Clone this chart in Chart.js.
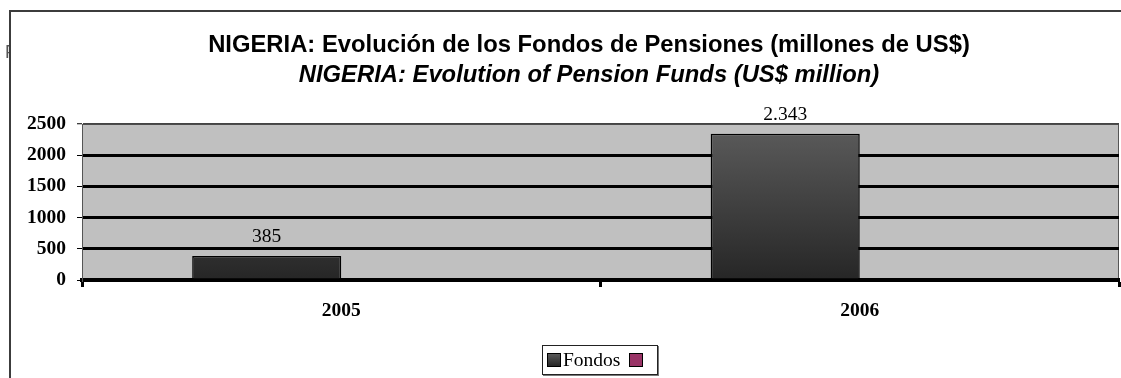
<!DOCTYPE html>
<html>
<head>
<meta charset="utf-8">
<script src="https://cdn.jsdelivr.net/npm/chart.js@4.4.1/dist/chart.umd.min.js"></script>
<style>
  html, body { margin: 0; padding: 0; background: #fff; }
  #wrap { position: relative; width: 1121px; height: 378px; overflow: hidden; }
  #chart { position: absolute; left: 0; top: 0; }
  .frame { position: absolute; left: 9px; top: 10px; right: -10px; bottom: -10px;
           border-left: 2px solid #3c3c3c; border-top: 2px solid #3c3c3c; pointer-events: none; }
  .stub { position: absolute; left: 0; top: 42px; width: 9px; overflow: hidden;
          font: 18px 'Liberation Sans', Arial, sans-serif; color: #555; }
  .stub span { position: relative; left: 5px; }
  .title { position: absolute; left: 89px; width: 1000px; text-align: center;
           font-family: 'Liberation Sans', Arial, sans-serif; font-weight: bold; font-size: 23.8px;
           color: #000; white-space: nowrap; line-height: 1; }
  #t1 { top: 32px; }
  #t2 { top: 62px; font-style: italic; }
  .legend { position: absolute; left: 542px; top: 345px; width: 116px; height: 30px;
            border: 1px solid #222; box-shadow: 1px 1px 0 #777; background: #fff;
            font: 19.5px 'Liberation Serif', 'Times New Roman', serif; color: #000;
            display: flex; align-items: center; box-sizing: border-box; padding-left: 4px; }
  .sw { width: 14px; height: 14px; border: 1.5px solid #000; box-sizing: border-box; display: inline-block; }
</style>
</head>
<body>
<div id="wrap">
  <canvas id="chart" width="1121" height="378"></canvas>
  <div class="stub"><span>F</span></div>
  <div class="frame"></div>
  <div class="title" id="t1">NIGERIA: Evolución de los Fondos de Pensiones (millones de US$)</div>
  <div class="title" id="t2">NIGERIA: Evolution of Pension Funds (US$ million)</div>
  <div class="legend">
    <span class="sw" style="background: linear-gradient(#5a5a5a, #262626);"></span>
    <span style="margin-left: 2px;">Fondos</span>
    <span class="sw" style="background: #993366; margin-left: 9px;"></span>
  </div>
</div>
<script>
// Pension fund assets, US$ million
const YEARS = ['2005', '2006'];
const FONDOS = [385, 2343];
const EMPTY_SERIES = [null, null];
const Y_MIN = 0;
const Y_MAX = 2500;
const Y_STEP = 500;

const serif = "'Liberation Serif', 'Times New Roman', serif";

// grey plot background with a thin outline
const plotBackground = {
  id: 'plotBackground',
  beforeDraw(chart) {
    const { ctx, chartArea: a } = chart;
    ctx.save();
    ctx.fillStyle = '#c0c0c0';
    ctx.fillRect(a.left, a.top, a.right - a.left, a.bottom - a.top);
    ctx.strokeStyle = '#555';
    ctx.lineWidth = 1;
    ctx.strokeRect(a.left + 0.5, a.top + 0.5, a.right - a.left - 1, a.bottom - a.top);
    ctx.restore();
  }
};

// value labels above the bars, '.' as thousands separator
const valueLabels = {
  id: 'valueLabels',
  afterDatasetsDraw(chart) {
    const { ctx } = chart;
    const meta = chart.getDatasetMeta(0);
    ctx.save();
    ctx.font = '19.5px ' + serif;
    ctx.fillStyle = '#000';
    ctx.textAlign = 'center';
    ctx.textBaseline = 'alphabetic';
    meta.data.forEach((bar, i) => {
      const v = chart.data.datasets[0].data[i];
      const txt = v.toLocaleString('de-DE');
      ctx.fillText(txt, bar.x, bar.y - 14);
    });
    ctx.restore();
  }
};

function barGradient(context) {
  const { chart } = context;
  const a = chart.chartArea;
  if (!a) return '#3a3a3a';
  const el = context.element;
  const top = el && isFinite(el.y) ? el.y : a.top;
  const g = chart.ctx.createLinearGradient(0, top, 0, a.bottom);
  g.addColorStop(0, '#5c5c5c');
  g.addColorStop(1, '#262626');
  return g;
}

new Chart(document.getElementById('chart'), {
  type: 'bar',
  data: {
    labels: YEARS,
    datasets: [
      { label: 'Fondos', data: FONDOS, backgroundColor: barGradient, borderColor: '#000', borderWidth: 1.5,
        categoryPercentage: 0.575, barPercentage: 1 },
      { label: '', data: EMPTY_SERIES, backgroundColor: '#993366', borderColor: '#000', borderWidth: 1,
        categoryPercentage: 0.575, barPercentage: 1 }
    ]
  },
  options: {
    responsive: false,
    animation: false,
    layout: { padding: { top: 124, right: 2, left: 0, bottom: 0 } },
    plugins: { legend: { display: false }, title: { display: false }, tooltip: { enabled: false } },
    scales: {
      x: {
        afterFit(scale) { scale.height = 98; },
        border: { color: '#000', width: 4 },
        grid: { drawOnChartArea: false, drawTicks: true, offset: true, tickLength: 7, tickWidth: 3, tickColor: '#000' },
        ticks: { color: '#000', padding: 12, font: { family: serif, size: 19.5, weight: 'bold' } }
      },
      y: {
        min: Y_MIN,
        max: Y_MAX,
        afterFit(scale) { scale.width = 82; },
        border: { color: '#555', width: 1 },
        grid: {
          color: ctx => (ctx.tick && ctx.tick.value === Y_MAX) ? '#444' : '#000',
          lineWidth: ctx => (ctx.tick && ctx.tick.value === Y_MAX) ? 1.5 : 3,
          tickLength: 5, tickWidth: 1, tickColor: '#000'
        },
        ticks: { stepSize: Y_STEP, color: '#000', padding: 11, callback: v => String(v),
                 font: { family: serif, size: 19.5, weight: 'bold' } }
      }
    }
  },
  plugins: [plotBackground, valueLabels]
});
</script>
</body>
</html>
